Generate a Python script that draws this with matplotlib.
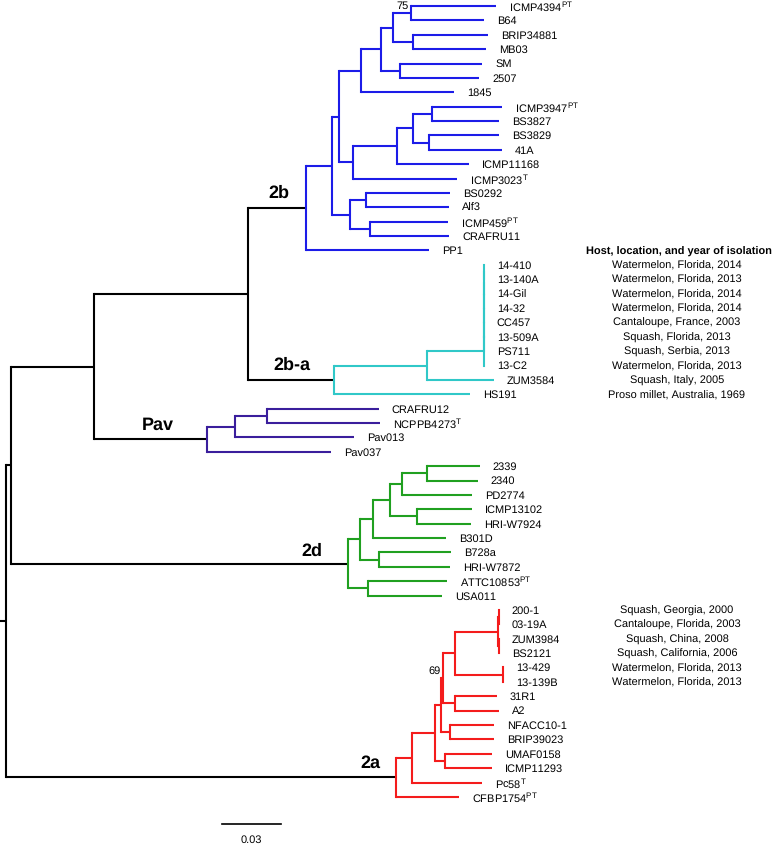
import matplotlib
matplotlib.use("Agg")
import matplotlib.pyplot as plt

plt.rcParams["font.family"] = ["Liberation Sans", "DejaVu Sans"]
plt.rcParams["mathtext.fontset"] = "custom"
plt.rcParams["mathtext.rm"] = "Liberation Sans"
plt.rcParams["text.hinting"] = "no_hinting"
plt.rcParams["text.hinting_factor"] = 1

# ── tree data: Newick strings, branch lengths in substitutions/site ──
BACKBONE = "((((2b:0.0295,2b-a:0.0437):0.0783,Pav:0.0575):0.0422,2d:0.1714):0.0025,2a:0.1983)"

CLADE_2B = ("(((((((ICMP4394:0.0432,B64:0.0371):0.0092,(BRIP34881:0.0381,MB03:0.0371):0.0102):0.0061,"
            "(SM:0.0417,2507:0.0402):0.0097):0.0102,1845:0.0473):0.0112,"
            "((((ICMP3947:0.0356,BS3827:0.0341):0.0097,(BS3829:0.0356,41A:0.0371):0.0081):0.0081,"
            "ICMP11168:0.0366):0.0224,ICMP3023:0.0529):0.0071):0.0036,"
            "((BS0292:0.0427,Alf3:0.0422):0.0081,(ICMP459:0.0397,CRAFRU11:0.0402):0.0102):0.0092):0.0132,"
            "PP1:0.0625)")
CLADE_2BA = ("(((((((((14-410:0,13-140A:0):0,14-Gil:0):0,14-32:0):0,CC457:0):0,13-509A:0):0,"
             "PS711:0):0,13-C2:0):0.0290,ZUM3584:0.0341):0.0473,HS191:0.0692)")
CLADE_PAV = "(((CRAFRU12:0.0569,NCPPB4273:0.0575):0.0163,Pav013:0.0605):0.0142,Pav037:0.0631)"
CLADE_2D = ("((((((2339:0.0269,2340:0.0259):0.0127,PD2774:0.0356):0.0061,"
            "(ICMP13102:0.0280,HRI-W7924:0.0275):0.0137):0.0086,B301D:0.0371):0.0066,"
            "(B728a:0.0366,HRI-W7872:0.0361):0.0097):0.0061,(ATTC10853:0.0402,USA011:0.0376):0.0102)")
CLADE_2A = ("((((((((200-1:0,03-19A:0):0.0003,(ZUM3984:0,BS2121:0):0.0003):0.0219,"
            "(13-429:0,13-139B:0):0.0244):0.0061,(31R1:0.0214,A2:0.0224):0.0061):0.0010,"
            "(NFACC10-1:0.0224,BRIP39023:0.0224):0.0046):0.0031,"
            "(UMAF0158:0.0239,ICMP11293:0.0239):0.0051):0.0117,Pc58:0.0356):0.0081,CFBP1754:0.0320)")

CLADES = {"2b": CLADE_2B, "2b-a": CLADE_2BA, "Pav": CLADE_PAV, "2d": CLADE_2D, "2a": CLADE_2A}
CLADE_COLORS = {"2b": "#1c1ce8", "2b-a": "#30c8c8", "Pav": "#3a1e9c",
                "2d": "#20a020", "2a": "#f41c1c"}

SUPERSCRIPT = {"ICMP4394": "PT", "ICMP3947": "PT", "ICMP3023": "T", "ICMP459": "PT",
               "NCPPB4273": "T", "ATTC10853": "PT", "Pc58": "T", "CFBP1754": "PT"}

HOST_INFO = {
    "14-410": "Watermelon, Florida, 2014", "13-140A": "Watermelon, Florida, 2013",
    "14-Gil": "Watermelon, Florida, 2014", "14-32": "Watermelon, Florida, 2014",
    "CC457": "Cantaloupe, France, 2003", "13-509A": "Squash, Florida, 2013",
    "PS711": "Squash, Serbia, 2013", "13-C2": "Watermelon, Florida, 2013",
    "ZUM3584": "Squash, Italy, 2005", "HS191": "Proso millet, Australia, 1969",
    "200-1": "Squash, Georgia, 2000", "03-19A": "Cantaloupe, Florida, 2003",
    "ZUM3984": "Squash, China, 2008", "BS2121": "Squash, California, 2006",
    "13-429": "Watermelon, Florida, 2013", "13-139B": "Watermelon, Florida, 2013",
}
HOST_HEADER = "Host, location, and year of isolation"

BOOTSTRAP = [("ICMP4394", "B64", 75), ("200-1", "A2", 69)]
SCALE_LEN = 0.03


def parse_newick(text):
    pos = 0

    def read_node():
        nonlocal pos
        kids = []
        if text[pos] == "(":
            pos += 1
            kids.append(read_node())
            while text[pos] == ",":
                pos += 1
                kids.append(read_node())
            pos += 1
        start = pos
        while pos < len(text) and text[pos] not in ",()":
            pos += 1
        name, _, length = text[start:pos].partition(":")
        return {"name": name, "length": float(length) if length else 0.0, "children": kids}

    return read_node()


root = parse_newick(BACKBONE)
leaves = []


def build(node, parent_x, color):
    if node["name"] in CLADES:
        sub = parse_newick(CLADES[node["name"]])
        node["children"] = sub["children"]
        color = CLADE_COLORS[node["name"]]
    node["x"] = parent_x + node["length"]
    node["color"] = color
    if not node["children"]:
        node["y"] = len(leaves)
        leaves.append(node)
    else:
        for c in node["children"]:
            build(c, node["x"], color)
        node["y"] = (node["children"][0]["y"] + node["children"][-1]["y"]) / 2


root["length"] = 0.0
build(root, 0.0, "black")

# pixel helpers (figure is 775 x 845 px)
K = SCALE_LEN / 59.0
def px(p): return (p - 6) * K
def py(p): return (p - 7) / 14.38

fig = plt.figure(figsize=(7.75, 8.45), dpi=100)
ax = fig.add_axes([0, 0, 1, 1])
ax.set_xlim(px(0), px(775))
ax.set_ylim(py(845), py(0))
ax.axis("off")

LW = 1.5
ax.plot([root["x"] - 6 * K, root["x"]], [root["y"]] * 2, color="black", lw=LW, solid_capstyle="butt")


def draw(node):
    for c in node["children"]:
        if c["length"] > 0:
            ax.plot([node["x"], c["x"]], [c["y"]] * 2, color=node["color"], lw=LW,
                    solid_capstyle="butt")
        draw(c)
    if node["children"]:
        ax.plot([node["x"]] * 2, [node["children"][0]["y"], node["children"][-1]["y"]],
                color=node["color"], lw=LW, solid_capstyle="projecting")
    else:
        name = node["name"]
        label = name + (r"$^{\rm %s}$" % SUPERSCRIPT[name] if name in SUPERSCRIPT else "")
        ax.annotate(label, (node["x"], node["y"]), xytext=(13, 0), textcoords="offset pixels",
                    ha="left", va="center", fontsize=8)
        if name in HOST_INFO:
            ax.text(px(677), node["y"], HOST_INFO[name], ha="center", va="center", fontsize=8)


draw(root)

# host info header on the PP1 row
pp1 = [l for l in leaves if l["name"] == "PP1"][0]
ax.text(px(679), pp1["y"], HOST_HEADER, ha="center", va="center", fontsize=8, fontweight="bold")

# clade labels
CLADE_LABEL_POS = {"2b": (279, 193), "2b-a": (292, 365), "Pav": (158, 425),
                   "2d": (312, 551), "2a": (370, 763)}
for name, (lx, ly) in CLADE_LABEL_POS.items():
    ax.text(px(lx), py(ly), name, ha="center", va="center", fontsize=13, fontweight="bold")


# bootstrap values at the MRCA of two leaves
def path_to(node, name):
    if node["name"] == name and not node["children"]:
        return [node]
    for c in node["children"]:
        p = path_to(c, name)
        if p:
            return [node] + p
    return None


for a, b, val in BOOTSTRAP:
    pa, pb = path_to(root, a), path_to(root, b)
    mrca = [n1 for n1, n2 in zip(pa, pb) if n1 is n2][-1]
    ax.annotate(str(val), (mrca["x"], mrca["y"]), xytext=(-2, 3), textcoords="offset pixels",
                ha="right", va="bottom", fontsize=8)

# scale bar
ax.plot([px(222), px(222) + SCALE_LEN], [py(825)] * 2, color="black", lw=1.2)
ax.text(px(222) + SCALE_LEN / 2, py(840), f"{SCALE_LEN:.2f}", ha="center", va="center", fontsize=8)

fig.savefig("out.png", dpi=100)
